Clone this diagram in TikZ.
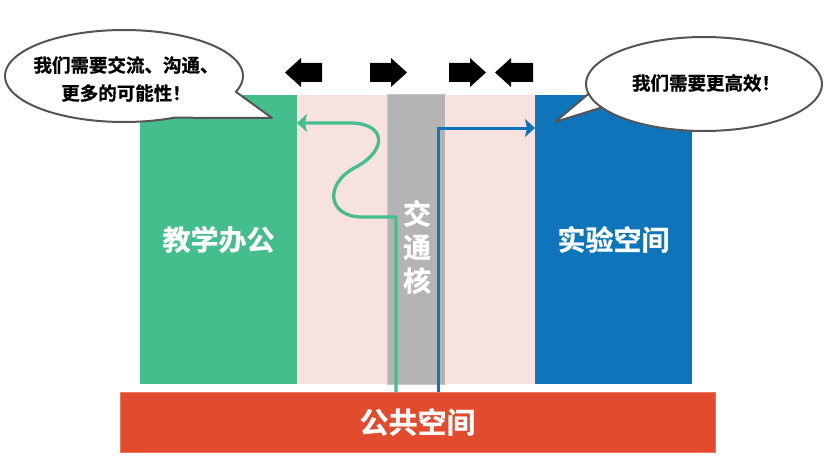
\documentclass[tikz,border=0pt]{standalone}
\usepackage{fontspec}
\newfontfamily\cjkb{Noto Sans CJK SC Bold}[FakeBold=0.8]
\usetikzlibrary{arrows.meta}
\definecolor{cgreen}{RGB}{69,190,141}
\definecolor{cpink}{RGB}{247,226,224}
\definecolor{cgray}{RGB}{180,180,180}
\definecolor{cblue}{RGB}{14,117,186}
\definecolor{cred}{RGB}{226,75,45}
\definecolor{cedge}{RGB}{85,85,85}
\newcommand\myRarrow[2]{\fill[black] (#1,63) -- ({#2-16},63) -- ({#2-16},58) -- (#2,72.5) -- ({#2-16},87) -- ({#2-16},82) -- (#1,82) -- cycle;}
\newcommand\myLarrow[2]{\fill[black] (#2,63) -- ({#1+16},63) -- ({#1+16},58) -- (#1,72.5) -- ({#1+16},87) -- ({#1+16},82) -- (#2,82) -- cycle;}
\tikzset{
  zone/.style={draw=none, inner sep=0pt, minimum height=289pt, font=\cjkb\fontsize{28}{34}\selectfont, text=white},
  bubbletext/.style={font=\cjkb\fontsize{18.5}{28}\selectfont, text=black, align=center, inner sep=0pt},
  bubble/.style={fill=white, draw=cedge, line width=2pt, line join=round},
  flow/.style={line width=3.3pt, -{Stealth[length=10pt,width=18pt,inset=2pt]}}
}
\begin{document}
\begin{tikzpicture}[x=1pt,y=-1pt]
\useasboundingbox (0,0) rectangle (829,476);
% columns
\node[zone, fill=cgreen, minimum width=157pt] (teach) at (218.5,239.5) {教学办公};
\node[zone, fill=cpink, minimum width=90pt] (pinkL) at (342,239.5) {};
\node[zone, fill=cgray, minimum width=58pt, draw={rgb,255:red,200;green,200;blue,200}, line width=1pt] (core) at (416,239.5) {};
\node[zone, fill=cpink, minimum width=90pt] (pinkR) at (490,239.5) {};
\node[zone, fill=cblue, minimum width=157pt] (lab) at (613.5,239.5) {实验空间};
\node[font=\cjkb\fontsize{28}{33.5}\selectfont, text=white, align=center, inner sep=0pt] (coretext) at (417,247) {交\\通\\核};
% public space
\node[fill=cred, draw={rgb,255:red,236;green,120;blue,100}, line width=0.8pt, minimum width=595pt, minimum height=60pt, inner sep=0pt, font=\cjkb\fontsize{29}{34}\selectfont, text=white] (public) at (417.5,422) {公共空间};
% flows
\coordinate (gstart) at (396,392);
\coordinate (gtarget) at (297,123);
\draw[flow, cgreen] (gstart) -- (396,217) -- (362,217) .. controls (328,217) and (323,184) .. (356,167) .. controls (388,150) and (386,123) .. (350,123) -- (gtarget);
\coordinate (bstart) at (438,392);
\coordinate (btarget) at (535,128);
\draw[flow, cblue, line width=3pt] (bstart) -- (438,128) -- (btarget);
% top arrows
\myLarrow{285}{322}
\myRarrow{370}{407}
\myRarrow{449}{486}
\myLarrow{495}{533}
% left bubble
\draw[bubble] (272,118) -- plot[domain=65:380, samples=90, smooth] ({124+119*cos(\x)},{76+46*sin(\x)}) -- cycle;
\node[bubbletext] (lefttext) at (126,79) {我们需要交流、沟通、\\更多的可能性！};
% right bubble
\draw[bubble] (555,122) -- plot[domain=150:528, samples=90, smooth] ({704+118*cos(\x)},{84+47*sin(\x)}) -- cycle;
\node[bubbletext] (righttext) at (706,83) {我们需要更高效！};
\end{tikzpicture}
\end{document}
